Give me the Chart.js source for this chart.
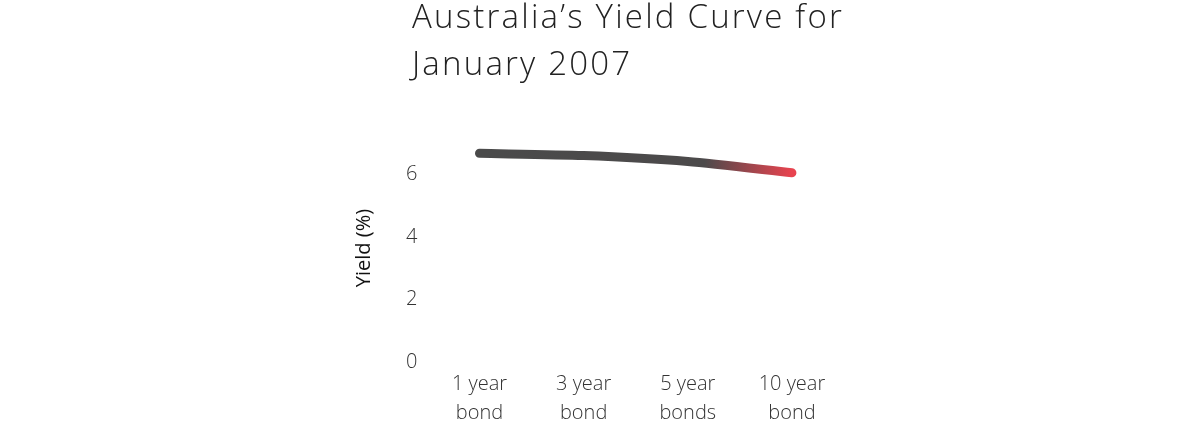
<!DOCTYPE html>
<html>
<head>
<meta charset="utf-8">
<script src="https://cdn.jsdelivr.net/npm/chart.js@4"></script>
<style>
  html, body { margin: 0; padding: 0; background: #fff; }
  #wrap { width: 1200px; height: 428px; position: relative; }
</style>
</head>
<body>
<div id="wrap"><canvas id="yield-chart" width="1200" height="428"></canvas></div>
<script>
// values
const bondLabels = [["1 year", "bond"], ["3 year", "bond"], ["5 year", "bonds"], ["10 year", "bond"]];
const yieldValues = [6.68, 6.61, 6.42, 6.06];
const yTicks = [0, 2, 4, 6];
const titleLines = ["Australia\u2019s Yield Curve for", "January 2007"];

// draws the two-line title left aligned above the plot
const titlePlugin = {
  id: 'leftTitle',
  afterDraw(chart) {
    const ctx = chart.ctx;
    ctx.save();
    ctx.fillStyle = '#222';
    ctx.font = '300 33px "Open Sans", sans-serif';
    ctx.letterSpacing = '2.2px';
    ctx.textBaseline = 'alphabetic';
    ctx.fillText(titleLines[0], 412, 28);
    ctx.fillText(titleLines[1], 412, 75);
    ctx.restore();
  }
};

function lineGradient(ctx) {
  const chart = ctx.chart;
  const area = chart.chartArea;
  if (!area) return '#4a4a4a';
  const x = chart.scales.x;
  const x0 = x.getPixelForValue(0);
  const x1 = x.getPixelForValue(yieldValues.length - 1);
  if (!isFinite(x0) || !isFinite(x1) || x0 === x1) return '#4a4a4a';
  const g = chart.ctx.createLinearGradient(x0, 0, x1, 0);
  g.addColorStop(0, '#4a4a4a');
  g.addColorStop(0.72, '#4c4a4b');
  g.addColorStop(1, '#e8434f');
  return g;
}

new Chart(document.getElementById("yield-chart"), {
  type: 'line',
  data: {
    labels: bondLabels,
    datasets: [{
      label: "Yield (%)",
      data: yieldValues,
      borderColor: lineGradient,
      borderWidth: 9,
      borderCapStyle: 'round',
      borderJoinStyle: 'round',
      tension: 0.25,
      pointRadius: 0,
      fill: false
    }]
  },
  options: {
    responsive: false,
    animation: false,
    devicePixelRatio: 1,
    layout: { padding: { left: 352, right: 356, top: 134, bottom: -8 } },
    plugins: {
      legend: { display: false },
      title: { display: false },
      tooltip: { enabled: false }
    },
    scales: {
      x: {
        offset: true,
        grid: { display: false, drawTicks: false },
        border: { display: false },
        ticks: {
          color: '#333',
          padding: 8,
          font: { family: '"Open Sans", sans-serif', size: 20, weight: '300', lineHeight: 1.45 },
          maxRotation: 0
        }
      },
      y: {
        min: 0,
        max: 7.3,
        afterBuildTicks(scale) {
          scale.ticks = yTicks.map(v => ({ value: v }));
        },
        grid: { display: false, drawTicks: false },
        border: { display: false },
        ticks: {
          color: '#333',
          padding: 10,
          font: { family: '"Open Sans", sans-serif', size: 20, weight: '300' }
        },
        title: {
          display: true,
          text: 'Yield (%)',
          color: '#111',
          padding: { top: 0, bottom: 20 },
          font: { family: '"Open Sans", sans-serif', size: 20, weight: '500' }
        }
      }
    }
  },
  plugins: [titlePlugin]
});
</script>
</body>
</html>
